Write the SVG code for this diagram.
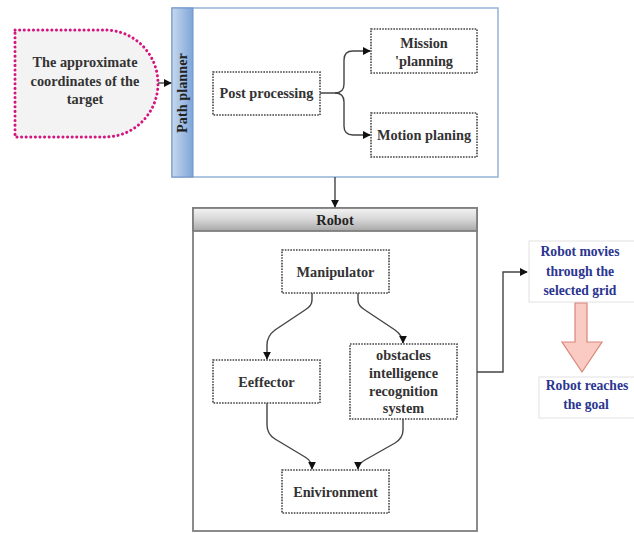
<svg xmlns="http://www.w3.org/2000/svg" width="634" height="533" viewBox="0 0 634 533">
<defs>
<linearGradient id="band" x1="0" y1="0" x2="1" y2="0">
<stop offset="0" stop-color="#c6d8ee"/>
<stop offset="1" stop-color="#7ea5d8"/>
</linearGradient>
<linearGradient id="hdr" x1="0" y1="0" x2="0" y2="1">
<stop offset="0" stop-color="#f4f4f4"/>
<stop offset="0.5" stop-color="#d6d6d6"/>
<stop offset="1" stop-color="#a8a8a8"/>
</linearGradient>
<marker id="ah" viewBox="0 0 10 10" refX="9" refY="5" markerWidth="8" markerHeight="8" markerUnits="userSpaceOnUse" orient="auto">
<path d="M0,0 L10,5 L0,10 Z" fill="#111"/>
</marker>
</defs>
<style>
.t{font-family:"Liberation Serif","Times New Roman",serif;font-weight:bold;font-size:14.3px;fill:#333;text-anchor:middle}
.b{font-family:"Liberation Serif","Times New Roman",serif;font-weight:bold;font-size:13.6px;fill:#2b3590;text-anchor:middle}
.box{fill:#fff;stroke:#444;stroke-width:1.6;stroke-dasharray:1.6 1.2}
.c{fill:none;stroke:#444;stroke-width:1.4}
</style>
<rect width="634" height="533" fill="#fff"/>

<g id="target">
<path d="M15,30 H105 A53,53.5 0 0 1 105,137 H15 Z" fill="#f3f3f3" stroke="#d4147f" stroke-width="3" stroke-dasharray="0.1 4.5" stroke-linecap="round"/>
<text class="t" x="85" y="67">The approximate</text>
<text class="t" x="85" y="86">coordinates of the</text>
<text class="t" x="85" y="104">target</text>
</g>

<g id="path-planner">
<rect x="172" y="8" width="326" height="169" fill="#fff" stroke="#95b3d7" stroke-width="1.5"/>
<rect x="172" y="8" width="21" height="169" fill="url(#band)" stroke="#6f94c6" stroke-width="1"/>
<text class="t" x="0" y="0" transform="translate(187,93) rotate(-90)" style="fill:#222">Path planner</text>
</g>

<g id="post-processing">
<rect class="box" x="213" y="72" width="107" height="43"/>
<text class="t" x="266.5" y="98">Post processing</text>
</g>
<g id="mission-planning">
<rect class="box" x="371" y="29" width="106" height="44"/>
<text class="t" x="424" y="47.5">Mission</text>
<text class="t" x="424" y="65.5">'planning</text>
</g>
<g id="motion-planing">
<rect class="box" x="371" y="113" width="106" height="44"/>
<text class="t" x="424" y="140">Motion planing</text>
</g>

<g id="robot">
<rect x="193" y="208" width="284" height="323" fill="#fff" stroke="#7f7f7f" stroke-width="1.8"/>
<rect x="193" y="208" width="284" height="23" fill="url(#hdr)" stroke="#7f7f7f" stroke-width="1.8"/>
<text class="t" x="335" y="224.5" style="fill:#222">Robot</text>
</g>

<g id="manipulator">
<rect class="box" x="282" y="250" width="107" height="43"/>
<text class="t" x="335.5" y="276.5">Manipulator</text>
</g>
<g id="eeffector">
<rect class="box" x="213" y="360" width="107" height="43"/>
<text class="t" x="266.5" y="386.5">Eeffector</text>
</g>
<g id="obstacles">
<rect class="box" x="350" y="344" width="107" height="75"/>
<text class="t" x="403.5" y="359.5">obstacles</text>
<text class="t" x="403.5" y="377.5">intelligence</text>
<text class="t" x="403.5" y="395.5">recognition</text>
<text class="t" x="403.5" y="412.5">system</text>
</g>
<g id="environment">
<rect class="box" x="282" y="470" width="107" height="43"/>
<text class="t" x="335.5" y="496.5">Enivironment</text>
</g>

<g id="robot-moves">
<rect x="529" y="241" width="110" height="61" fill="#fff" stroke="#e2e2e2" stroke-width="1"/>
<text class="b" x="580" y="256">Robot movies</text>
<text class="b" x="580" y="276">through the</text>
<text class="b" x="580" y="295">selected grid</text>
</g>
<g id="robot-reaches">
<rect x="539" y="377" width="100" height="41" fill="#fff" stroke="#e2e2e2" stroke-width="1"/>
<text class="b" x="587" y="390">Robot reaches</text>
<text class="b" x="586" y="409">the goal</text>
</g>

<g id="connectors">
<line class="c" x1="158" y1="83" x2="171" y2="83" marker-end="url(#ah)"/>
<path class="c" d="M320,93 H335 Q344,93 344,84 V60 Q344,51 353,51 H370" marker-end="url(#ah)"/>
<path class="c" d="M335,93 Q344,93 344,102 V126 Q344,135 353,135 H370" marker-end="url(#ah)"/>
<line class="c" x1="335" y1="177" x2="335" y2="207" marker-end="url(#ah)"/>
<path class="c" d="M312,293 V300 Q312,306 305,310 L275,330 Q267,336 267,345 V359" marker-end="url(#ah)"/>
<path class="c" d="M358,293 V300 Q358,306 365,310 L395,330 Q403,336 403,343" marker-end="url(#ah)"/>
<path class="c" d="M267,403 V425 Q267,434 275,439 L305,457 Q312,461 312,469" marker-end="url(#ah)"/>
<path class="c" d="M403,419 V430 Q403,438 395,443 L365,460 Q358,464 358,469" marker-end="url(#ah)"/>
<path class="c" d="M477,372 H503 V272 H527" marker-end="url(#ah)"/>
<path d="M575,303 H587 V342 H602 L582,372 L562,342 H575 Z" fill="#f9cbc2" stroke="#d9867a" stroke-width="1.2"/>
</g>
</svg>
